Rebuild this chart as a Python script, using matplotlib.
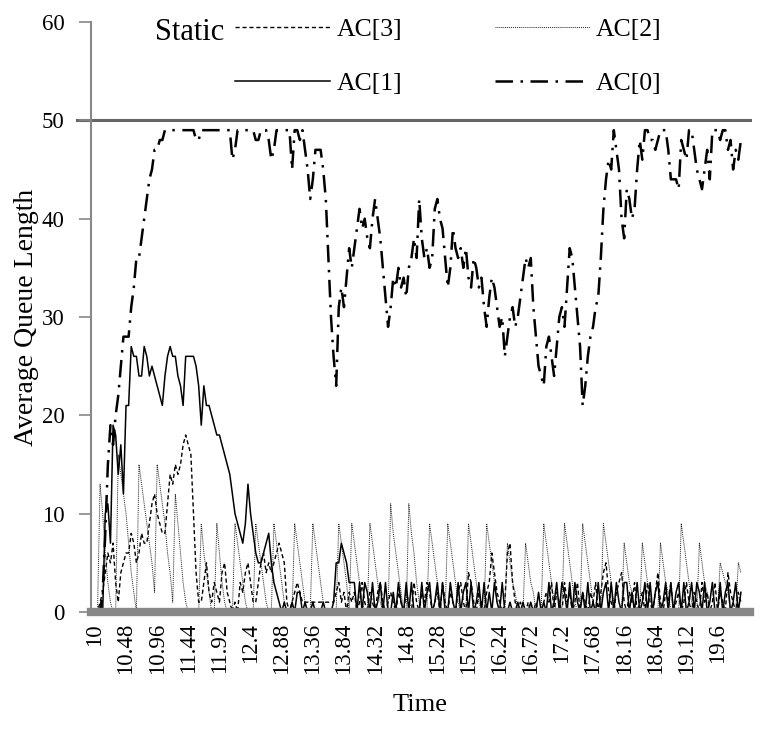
import matplotlib
matplotlib.use("Agg")
import matplotlib.pyplot as plt
import numpy as np

plt.rcParams["font.family"] = ["Liberation Serif", "DejaVu Serif"]

# time axis: 10.00 .. 19.96 in steps of 0.04
time = np.round(10 + 0.04 * np.arange(250), 2)

tick_labels = ["10", "10.48", "10.96", "11.44", "11.92", "12.4", "12.88", "13.36",
               "13.84", "14.32", "14.8", "15.28", "15.76", "16.24", "16.72", "17.2",
               "17.68", "18.16", "18.64", "19.12", "19.6"]

ac0 = [
    0, 0, 0, 2, 8, 15, 19, 17, 20, 22, 25, 28, 28, 28, 31, 33, 36, 36, 38, 40, 42, 44, 45, 47, 47,
    48, 48, 49, 49, 49, 49, 49, 49, 49, 49, 49, 49, 49, 49, 48, 48, 49, 49, 49, 49, 49, 49, 49, 49, 49,
    49, 49, 49, 46, 47, 49, 49, 49, 49, 49, 49, 49, 48, 48, 49, 49, 49, 48, 46, 47, 49, 49, 49, 49, 49,
    49, 45, 49, 49, 48, 49, 47, 45, 42, 44, 47, 47, 47, 45, 42, 36, 30, 26, 23, 31, 33, 31, 34, 37, 35,
    37, 39, 41, 39, 40, 38, 37, 40, 42, 40, 38, 35, 32, 29, 31, 34, 33, 35, 33, 34, 32, 35, 36, 38, 36,
    42, 38, 36, 37, 35, 36, 41, 42, 40, 39, 36, 33, 35, 39, 37, 36, 37, 35, 37, 34, 33, 36, 35, 33, 34,
    31, 29, 32, 34, 33, 31, 29, 30, 26, 28, 30, 31, 29, 30, 32, 34, 36, 35, 36, 31, 28, 25, 24, 23, 27,
    28, 26, 24, 27, 30, 31, 29, 33, 37, 36, 33, 30, 27, 21, 23, 26, 28, 29, 31, 32, 36, 41, 44, 46, 45,
    49, 47, 45, 40, 38, 43, 42, 40, 41, 45, 48, 46, 49, 49, 48, 48, 47, 48, 49, 49, 49, 47, 44, 44, 44,
    43, 48, 47, 46, 49, 49, 47, 45, 44, 43, 45, 47, 44, 49, 49, 49, 48, 49, 49, 47, 48, 45, 47, 46, 48,
]

ac1 = [
    0, 0, 0, 0, 10, 11, 7, 19, 18, 14, 17, 12, 21, 21, 27, 26, 26, 24, 24, 27, 26, 24, 25, 24, 23,
    22, 21, 24, 26, 27, 26, 26, 24, 23, 21, 26, 26, 26, 26, 25, 23, 19, 23, 21, 21, 20, 19, 18, 18, 17,
    16, 15, 14, 12, 10, 9, 8, 7, 9, 13, 10, 8, 6, 5, 5, 6, 7, 8, 5, 3, 2, 1, 0, 1, 0,
    0, 1, 0, 2, 2, 0, 1, 0, 0, 1, 0, 0, 0, 1, 0, 0, 0, 1, 5, 5, 7, 6, 5, 3, 3,
    3, 0, 3, 0, 3, 2, 0, 3, 0, 1, 3, 0, 3, 0, 0, 2, 0, 3, 1, 0, 3, 0, 3, 0, 0,
    0, 3, 0, 2, 3, 0, 1, 3, 0, 3, 0, 0, 3, 1, 0, 3, 0, 2, 3, 0, 3, 0, 1, 3, 0,
    3, 0, 2, 0, 3, 1, 0, 3, 0, 0, 1, 0, 0, 1, 0, 1, 0, 0, 1, 0, 0, 2, 0, 1, 0,
    3, 0, 1, 3, 0, 3, 2, 0, 3, 0, 3, 1, 0, 2, 0, 3, 0, 1, 0, 3, 0, 2, 3, 0, 3,
    0, 3, 1, 0, 3, 3, 0, 2, 0, 3, 0, 1, 3, 0, 3, 0, 2, 3, 0, 1, 3, 0, 3, 0, 2,
    3, 0, 3, 0, 1, 3, 0, 3, 2, 0, 3, 0, 1, 3, 0, 0, 3, 0, 2, 3, 0, 1, 3, 0, 2,
]

ac2 = [
    0, 0, 13, 10, 6, 3, 1, 0, 0, 16, 14, 12, 10, 7, 4, 2, 0, 15, 13, 11, 9, 7, 5, 2, 15,
    13, 11, 9, 6, 4, 1, 12, 9, 6, 3, 1, 0, 0, 0, 0, 0, 9, 6, 4, 2, 0, 0, 9, 6, 3,
    1, 0, 0, 0, 9, 7, 5, 3, 1, 0, 0, 0, 9, 7, 5, 3, 1, 0, 0, 9, 7, 5, 3, 1, 0,
    0, 0, 9, 7, 5, 3, 1, 0, 0, 9, 7, 5, 3, 1, 0, 0, 0, 0, 0, 9, 7, 5, 3, 0, 9,
    7, 5, 3, 1, 0, 0, 9, 7, 5, 3, 1, 0, 0, 0, 11, 8, 6, 4, 2, 0, 0, 11, 8, 6, 3,
    1, 0, 0, 0, 9, 7, 5, 3, 1, 0, 0, 9, 7, 5, 3, 1, 0, 0, 0, 9, 7, 5, 3, 1, 0,
    0, 9, 7, 5, 3, 1, 0, 0, 0, 7, 5, 3, 2, 0, 0, 0, 7, 5, 3, 2, 0, 0, 0, 9, 7,
    5, 3, 1, 0, 0, 0, 9, 7, 5, 3, 1, 0, 0, 9, 7, 5, 3, 1, 0, 0, 0, 9, 7, 5, 3,
    1, 0, 0, 0, 7, 5, 3, 2, 0, 0, 0, 7, 5, 3, 2, 0, 0, 0, 7, 5, 3, 2, 0, 0, 0,
    0, 9, 7, 5, 3, 1, 0, 0, 7, 5, 3, 2, 0, 0, 0, 0, 5, 4, 3, 2, 0, 0, 0, 5, 4,
]

ac3 = [
    0, 0, 1, 2, 4, 6, 5, 7, 3, 1, 4, 5, 6, 6, 8, 7, 5, 6, 8, 7, 7, 9, 11, 12, 10,
    9, 8, 8, 11, 14, 13, 15, 14, 15, 17, 18, 17, 16, 10, 4, 1, 1, 3, 5, 2, 1, 3, 2, 1, 4,
    5, 2, 1, 0, 1, 0, 3, 2, 4, 5, 3, 1, 1, 3, 5, 6, 4, 5, 4, 5, 6, 7, 6, 5, 1,
    0, 1, 2, 3, 2, 1, 1, 1, 1, 1, 1, 1, 1, 1, 1, 1, 1, 1, 2, 3, 1, 2, 0, 2, 1,
    2, 0, 1, 3, 1, 0, 2, 1, 0, 2, 3, 1, 0, 1, 2, 1, 0, 2, 1, 0, 2, 1, 0, 3, 1,
    0, 2, 1, 3, 2, 0, 1, 2, 0, 3, 1, 0, 2, 1, 0, 2, 3, 1, 0, 4, 3, 1, 0, 2, 1,
    0, 2, 3, 6, 4, 2, 1, 0, 1, 6, 7, 3, 1, 0, 1, 0, 0, 1, 0, 0, 1, 0, 0, 1, 2,
    1, 3, 0, 2, 1, 0, 3, 1, 2, 0, 1, 3, 0, 2, 1, 0, 2, 1, 3, 0, 2, 4, 5, 2, 1,
    0, 2, 3, 4, 1, 0, 2, 1, 3, 0, 1, 2, 0, 3, 1, 0, 2, 4, 1, 0, 2, 1, 3, 0, 1,
    2, 0, 1, 3, 1, 0, 2, 1, 0, 3, 1, 2, 0, 1, 3, 0, 2, 1, 0, 4, 2, 1, 0, 2, 1,
]

grey = "#888888"

fig = plt.figure(figsize=(7.62, 7.35), dpi=100)
ax = fig.add_axes([91 / 762, 1 - 612 / 735, (750 - 91) / 762, (612 - 22) / 735])

ax.plot(time, ac3, color="black", lw=1.0, ls=(0, (3, 2)), label="AC[3]")
ax.plot(time, ac2, color="#222222", lw=0.7, ls=(0, (1, 1)), label="AC[2]")
ax.plot(time, ac1, color="black", lw=1.1, ls="-", label="AC[1]")
ax.plot(time, ac0, color="black", lw=1.8, ls=(0, (7, 3, 1, 3)), label="AC[0]")

# queue limit line, running through the tick on the left
ax.axhline(50, xmin=-0.022, color="#666666", lw=2.2, zorder=1, clip_on=False)

ax.set_ylim(0, 60)
ax.set_xlim(9.94, 20.1)
ax.set_yticks(range(0, 61, 10))
ax.set_xticks(np.round(10 + 0.48 * np.arange(len(tick_labels)), 2))
ax.set_xticklabels(tick_labels, rotation=90)
ax.tick_params(axis="y", labelsize=16.5, color=grey, length=9, width=1.2, pad=10)
ax.tick_params(axis="x", labelsize=16.5, length=0, pad=8)

for side in ("top", "right"):
    ax.spines[side].set_visible(False)
ax.spines["left"].set_color(grey)
ax.spines["left"].set_linewidth(1.5)
ax.spines["bottom"].set_color(grey)
ax.spines["bottom"].set_linewidth(6)

ax.set_ylabel("Average Queue Length", fontsize=20, labelpad=2)
ax.set_xlabel("Time", fontsize=19, labelpad=14)

handles, labels = ax.get_legend_handles_labels()
order = [0, 2, 1, 3]
fig.legend([handles[i] for i in order], [labels[i] for i in order], ncol=2,
           frameon=False, fontsize=18.5, handlelength=3.7, handletextpad=0.25,
           columnspacing=3.6, labelspacing=1.2, loc="upper left",
           borderpad=0, borderaxespad=0, bbox_to_anchor=(235 / 762, 1 - 18 / 735))
fig.text(155 / 762, 1 - 32 / 735, "Static", fontsize=22, va="center")

fig.savefig("out.png", dpi=100)
